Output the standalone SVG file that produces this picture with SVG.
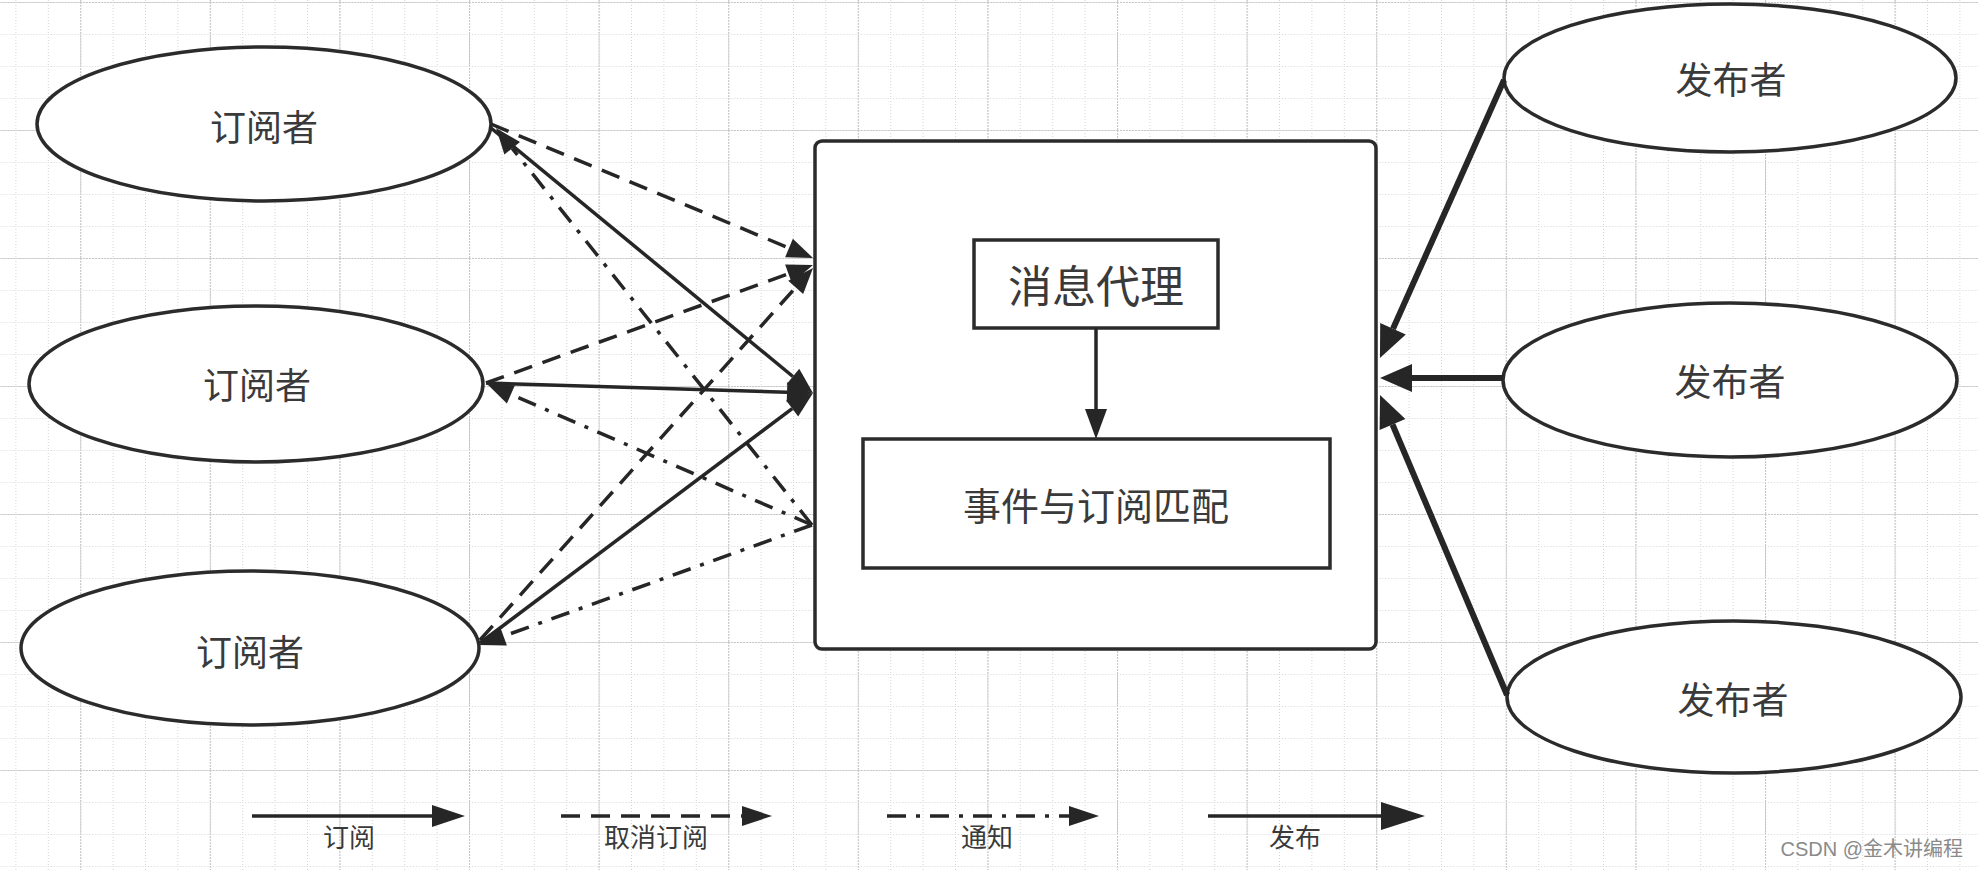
<svg xmlns="http://www.w3.org/2000/svg" width="1978" height="870" viewBox="0 0 1978 870">
<style>
.node{fill:#fff;stroke:#2b2b2b;stroke-width:3.5}
.t{font-family:"Noto Sans CJK SC","Noto Sans",sans-serif;fill:#3a3a3a;text-anchor:middle;dominant-baseline:central}
.ln{fill:none;stroke:#262626;stroke-width:3.5}
.dash{stroke-dasharray:19 11}
.dd{stroke-dasharray:19 10 4 10}
.pub{stroke-width:6}
.ah{fill:#262626}
</style>
<defs>
<pattern id="gmin" width="32.4" height="32" x="15.4" y="2" patternUnits="userSpaceOnUse">
<path d="M0,0.5 H32.4 M0.5,0 V32" fill="none" stroke="#d4d4d4" stroke-width="1" stroke-dasharray="1 2"/>
</pattern>
<pattern id="gmaj" width="129.6" height="128" x="80.2" y="2" patternUnits="userSpaceOnUse">
<path d="M0,0.5 H129.6 M0.5,0 V128" fill="none" stroke="#c6c6c6" stroke-width="1.2" stroke-dasharray="2 1"/>
</pattern>
<marker id="a26" markerUnits="userSpaceOnUse" markerWidth="26" markerHeight="20" refX="0" refY="10" orient="auto" overflow="visible"><path class="ah" d="M0,0 L26,10 L0,20 z"/></marker>
<marker id="aPub" markerUnits="userSpaceOnUse" markerWidth="32" markerHeight="28" refX="0" refY="14" orient="auto" overflow="visible"><path class="ah" d="M0,0 L32,14 L0,28 z"/></marker>
<marker id="aIn" markerUnits="userSpaceOnUse" markerWidth="30" markerHeight="22" refX="0" refY="11" orient="auto" overflow="visible"><path class="ah" d="M0,0 L30,11 L0,22 z"/></marker>
<marker id="aL1" markerUnits="userSpaceOnUse" markerWidth="33" markerHeight="22" refX="0" refY="11" orient="auto" overflow="visible"><path class="ah" d="M0,0 L33,11 L0,22 z"/></marker>
<marker id="aL2" markerUnits="userSpaceOnUse" markerWidth="30" markerHeight="20" refX="0" refY="10" orient="auto" overflow="visible"><path class="ah" d="M0,0 L30,10 L0,20 z"/></marker>
<marker id="aLP" markerUnits="userSpaceOnUse" markerWidth="44" markerHeight="28" refX="0" refY="14" orient="auto" overflow="visible"><path class="ah" d="M0,0 L44,14 L0,28 z"/></marker>
</defs>
<rect width="1978" height="870" fill="#fff"/>
<rect width="1978" height="870" fill="url(#gmin)"/>
<rect width="1978" height="870" fill="url(#gmaj)"/>

<g id="broker">
<rect class="node" x="815" y="141" width="561" height="508" rx="7"/>
</g>
<g id="msg-agent">
<rect class="node" x="974" y="240" width="244" height="88"/>
<text class="t" x="1096" y="284" font-size="44">消息代理</text>
</g>
<g id="matcher">
<rect class="node" x="863" y="439" width="467" height="129"/>
<text class="t" x="1096" y="503" font-size="38">事件与订阅匹配</text>
</g>

<g id="sub1">
<ellipse class="node" cx="264" cy="124" rx="227" ry="77"/>
<text class="t" x="264" y="125" font-size="36">订阅者</text>
</g>
<g id="sub2">
<ellipse class="node" cx="256" cy="384" rx="227" ry="78"/>
<text class="t" x="257" y="383" font-size="36">订阅者</text>
</g>
<g id="sub3">
<ellipse class="node" cx="250" cy="648" rx="229" ry="77"/>
<text class="t" x="250" y="650" font-size="36">订阅者</text>
</g>
<g id="pub1">
<ellipse class="node" cx="1730" cy="78" rx="226" ry="74"/>
<text class="t" x="1731" y="78" font-size="37">发布者</text>
</g>
<g id="pub2">
<ellipse class="node" cx="1730" cy="380" rx="227" ry="77"/>
<text class="t" x="1730" y="380" font-size="37">发布者</text>
</g>
<g id="pub3">
<ellipse class="node" cx="1734" cy="697" rx="227" ry="76"/>
<text class="t" x="1733" y="698" font-size="37">发布者</text>
</g>

<g id="connectors">
<line class="ln dash" x1="491" y1="124" x2="789.0" y2="248.0" marker-end="url(#a26)"/>
<line class="ln dash" x1="486" y1="383" x2="788.5" y2="273.8" marker-end="url(#a26)"/>
<line class="ln dash" x1="480" y1="640" x2="795.7" y2="287.4" marker-end="url(#a26)"/>
<line class="ln" x1="491" y1="128" x2="792.9" y2="376.5" marker-end="url(#a26)"/>
<line class="ln" x1="486" y1="383" x2="787.0" y2="392.2" marker-end="url(#a26)"/>
<line class="ln" x1="480" y1="643" x2="792.2" y2="408.6" marker-end="url(#a26)"/>
<line class="ln dd" x1="812" y1="525" x2="512.2" y2="148.3" marker-end="url(#a26)"/>
<line class="ln dd" x1="812" y1="525" x2="510.9" y2="394.4" marker-end="url(#a26)"/>
<line class="ln dd" x1="812" y1="525" x2="503.5" y2="636.2" marker-end="url(#a26)"/>
<line class="ln pub" x1="1504" y1="80" x2="1393.0" y2="328.8" marker-end="url(#aPub)"/>
<line class="ln pub" x1="1503" y1="378" x2="1412" y2="378" marker-end="url(#aPub)"/>
<line class="ln pub" x1="1507" y1="695" x2="1392.5" y2="424.5" marker-end="url(#aPub)"/>
<line class="ln" x1="1096" y1="328" x2="1096" y2="409" marker-end="url(#aIn)"/>
</g>

<g id="legend">
<line class="ln" x1="252" y1="816" x2="432" y2="816" marker-end="url(#aL1)"/>
<text class="t" x="349" y="835" font-size="26">订阅</text>
<line class="ln dash" stroke-width="4" x1="561" y1="816" x2="742" y2="816" marker-end="url(#aL2)"/>
<text class="t" x="656" y="835" font-size="26">取消订阅</text>
<line class="ln dd" stroke-width="4" x1="887" y1="816" x2="1069" y2="816" marker-end="url(#aL2)"/>
<text class="t" x="987" y="835" font-size="26">通知</text>
<line class="ln" stroke-width="7" x1="1208" y1="816" x2="1381" y2="816" marker-end="url(#aLP)"/>
<text class="t" x="1295" y="835" font-size="26">发布</text>
</g>

<g id="watermark">
<text x="1963" y="849" font-family="'Liberation Sans','Noto Sans CJK SC',sans-serif" font-size="20" fill="#8a8a8a" text-anchor="end" dominant-baseline="central">CSDN @金木讲编程</text>
</g>
</svg>
